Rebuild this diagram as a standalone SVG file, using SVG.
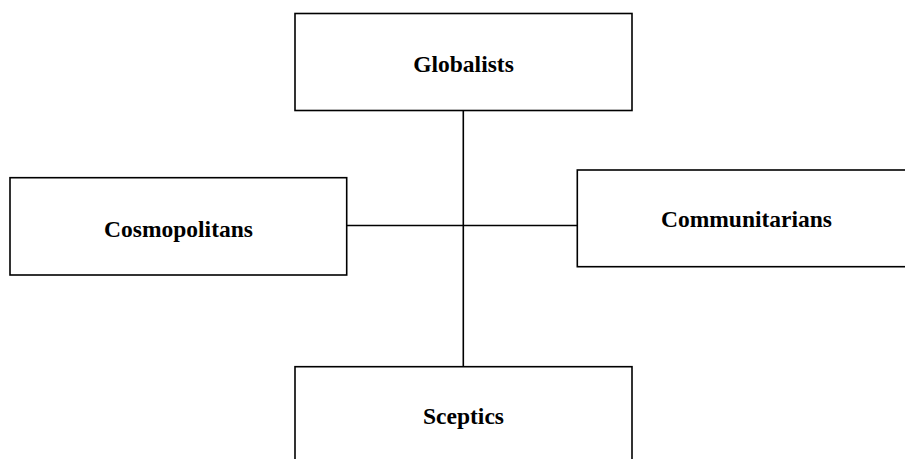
<svg xmlns="http://www.w3.org/2000/svg" width="905" height="459" viewBox="0 0 905 459">
<style>
.box{fill:#fff;stroke:#000;stroke-width:1.6}
.lbl{font-family:"Liberation Serif","Times New Roman",serif;font-weight:bold;font-size:23.5px;text-anchor:middle;fill:#000}
.con{stroke:#000;stroke-width:1.6;fill:none}
</style>
<rect width="905" height="459" fill="#fff"/>
<g id="connectors">
<line class="con" x1="463.3" y1="110.5" x2="463.3" y2="366.7"/>
<line class="con" x1="346.7" y1="225.5" x2="577" y2="225.5"/>
</g>
<g id="globalists">
<rect class="box" x="295" y="13.5" width="337" height="97"/>
<text class="lbl" x="463.5" y="71.5">Globalists</text>
</g>
<g id="cosmopolitans">
<rect class="box" x="10" y="177.7" width="336.7" height="97.3"/>
<text class="lbl" x="178.5" y="236.5">Cosmopolitans</text>
</g>
<g id="communitarians">
<rect class="box" x="577.3" y="170" width="340" height="96.7"/>
<text class="lbl" x="746.5" y="227">Communitarians</text>
</g>
<g id="sceptics">
<rect class="box" x="295" y="366.7" width="337" height="110"/>
<text class="lbl" x="463.5" y="424">Sceptics</text>
</g>
</svg>
